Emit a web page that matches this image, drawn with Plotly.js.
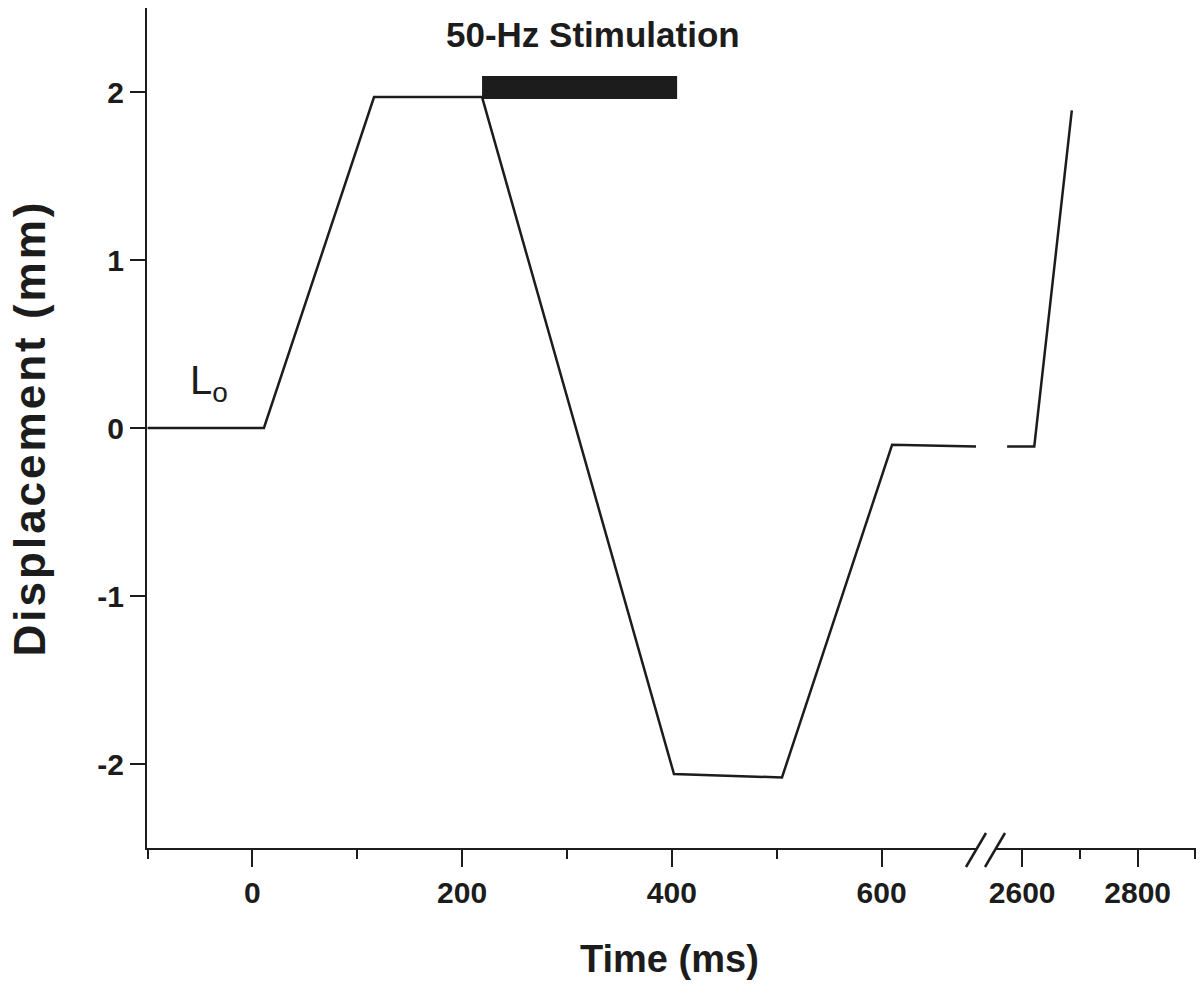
<!DOCTYPE html>
<html>
<head>
<meta charset="utf-8">
<script src="https://cdn.plot.ly/plotly-3.0.1.min.js"></script>
<style>
  html, body { margin: 0; padding: 0; background: #ffffff; }
  #chart { width: 1204px; height: 995px; }
  #chart .ytitle { letter-spacing: 3px; }
</style>
</head>
<body>
<div id="chart"></div>
<script>
// ---- data ----
// early segment of the time axis (ms)
const timeEarly = [-100, 11, 116, 219, 402, 505, 610, 690];
const dispEarly = [0, 0, 1.97, 1.97, -2.06, -2.08, -0.10, -0.11];
// late segment after the axis break (ms)
const timeLate = [2574, 2621, 2686];
const dispLate = [-0.11, -0.11, 1.89];
// stimulation period (ms)
const stimWindow = [219, 405];
const stimLabel = ['50-Hz Stimulation'];
// ticks
const yTicks = [-2, -1, 0, 1, 2];
const xTicksEarly = [0, 200, 400, 600];
const xMinorEarly = [-100, 100, 300, 500];
const xTicksLate = [2600, 2800];
const xMinorLate = [2700, 2900];
const restLabel = ['L<sub>o</sub>'];

// ---- layout helpers ----
const plotLeft = 147, plotRight = 1196, plotTop = 8, plotBottom = 848;
const plotW = plotRight - plotLeft;
const plotH = plotBottom - plotTop;
const d1End = (976 - plotLeft) / plotW;
const d2Start = (995 - plotLeft) / plotW;

const ink = '#1c1c1c';
const font = 'Liberation Sans, Arial, Helvetica, sans-serif';

const traces = [
  {
    x: timeEarly, y: dispEarly, xaxis: 'x', yaxis: 'y',
    mode: 'lines', line: {color: ink, width: 2.5}, hoverinfo: 'skip'
  },
  {
    x: timeLate, y: dispLate, xaxis: 'x2', yaxis: 'y',
    mode: 'lines', line: {color: ink, width: 2.5}, hoverinfo: 'skip'
  }
];

const tickFont = {family: font, size: 30, color: ink, weight: 'bold'};

const layout = {
  width: 1204, height: 995,
  margin: {l: plotLeft, r: 1204 - plotRight, t: plotTop, b: 995 - plotBottom},
  paper_bgcolor: '#ffffff', plot_bgcolor: '#ffffff',
  showlegend: false,
  font: {family: font, color: ink},
  xaxis: {
    domain: [0, d1End], range: [-100.5, 690],
    showline: true, linecolor: ink, linewidth: 2,
    showgrid: false, zeroline: false,
    ticks: 'outside', ticklen: 17, tickwidth: 2, tickcolor: ink,
    tickmode: 'array', tickvals: xTicksEarly, ticktext: xTicksEarly.map(String),
    minor: {tickmode: 'array', tickvals: xMinorEarly, ticks: 'outside', ticklen: 9, tickwidth: 2, tickcolor: ink, showgrid: false},
    tickfont: tickFont, anchor: 'y', fixedrange: true
  },
  xaxis2: {
    domain: [d2Start, 1], range: [2553, 2901],
    showline: true, linecolor: ink, linewidth: 2,
    showgrid: false, zeroline: false,
    ticks: 'outside', ticklen: 17, tickwidth: 2, tickcolor: ink,
    tickmode: 'array', tickvals: xTicksLate, ticktext: xTicksLate.map(String),
    minor: {tickmode: 'array', tickvals: xMinorLate, ticks: 'outside', ticklen: 9, tickwidth: 2, tickcolor: ink, showgrid: false},
    tickfont: tickFont, anchor: 'y', fixedrange: true
  },
  yaxis: {
    domain: [0, 1], range: [-2.5, 2.5],
    showline: true, linecolor: ink, linewidth: 2,
    showgrid: false, zeroline: false,
    ticks: 'outside', ticklen: 15, tickwidth: 2, tickcolor: ink,
    tickmode: 'array', tickvals: yTicks, ticktext: yTicks.map(String),
    tickfont: tickFont,
    title: {text: 'Displacement (mm)', font: {family: font, size: 44, color: ink, weight: 'bold'}, standoff: 38},
    fixedrange: true
  },
  shapes: [
    // stimulation bar
    {type: 'rect', xref: 'x', yref: 'y', x0: stimWindow[0], x1: stimWindow[1], y0: 1.958, y1: 2.095,
     fillcolor: ink, line: {width: 0}},
    // axis break marks
    {type: 'line', xref: 'paper', yref: 'paper', xsizemode: 'pixel', ysizemode: 'pixel',
     xanchor: d1End, yanchor: 0, x0: -10, x1: 10, y0: -19, y1: 15, line: {color: ink, width: 2.5}},
    {type: 'line', xref: 'paper', yref: 'paper', xsizemode: 'pixel', ysizemode: 'pixel',
     xanchor: d2Start, yanchor: 0, x0: -10, x1: 10, y0: -19, y1: 15, line: {color: ink, width: 2.5}}
  ],
  annotations: [
    {text: stimLabel[0], xref: 'x', yref: 'y', x: (stimWindow[0] + stimWindow[1]) / 2 + 13, y: 2.34,
     showarrow: false, xanchor: 'center', yanchor: 'middle',
     font: {family: font, size: 35, color: ink, weight: 'bold'}},
    {text: restLabel[0], xref: 'x', yref: 'y', x: -41, y: 0.27,
     showarrow: false, xanchor: 'center', yanchor: 'middle',
     font: {family: font, size: 40, color: ink}},
    {text: 'Time (ms)', xref: 'paper', yref: 'paper', x: (669 - plotLeft) / plotW, y: (plotBottom - 936) / plotH,
     showarrow: false, xanchor: 'center', yanchor: 'top',
     font: {family: font, size: 38, color: ink, weight: 'bold'}}
  ]
};

Plotly.newPlot('chart', traces, layout, {displayModeBar: false, staticPlot: true});
</script>
</body>
</html>
